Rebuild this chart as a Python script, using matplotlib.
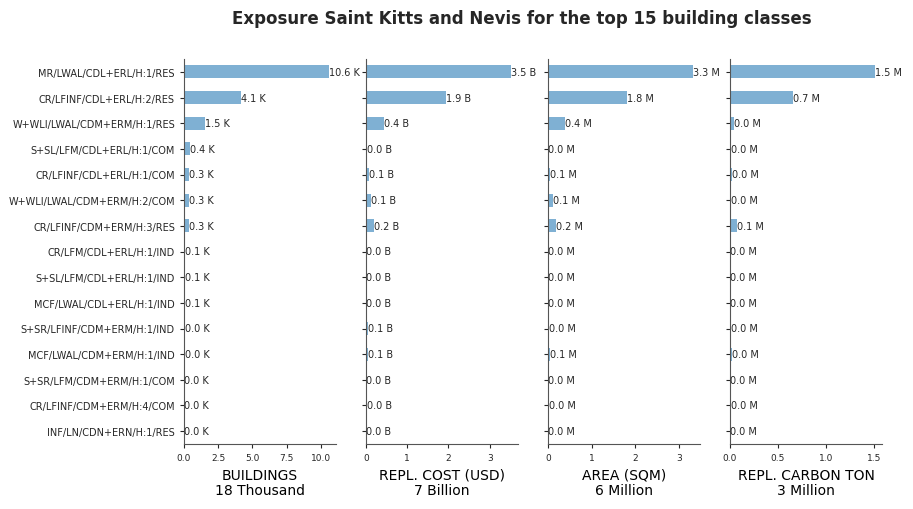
import matplotlib
matplotlib.use("Agg")
import matplotlib.pyplot as plt
from matplotlib.ticker import MultipleLocator
import numpy as np

title = "Exposure Saint Kitts and Nevis for the top 15 building classes"
classes = [
    "MR/LWAL/CDL+ERL/H:1/RES",
    "CR/LFINF/CDL+ERL/H:2/RES",
    "W+WLI/LWAL/CDM+ERM/H:1/RES",
    "S+SL/LFM/CDL+ERL/H:1/COM",
    "CR/LFINF/CDL+ERL/H:1/COM",
    "W+WLI/LWAL/CDM+ERM/H:2/COM",
    "CR/LFINF/CDM+ERM/H:3/RES",
    "CR/LFM/CDL+ERL/H:1/IND",
    "S+SL/LFM/CDL+ERL/H:1/IND",
    "MCF/LWAL/CDL+ERL/H:1/IND",
    "S+SR/LFINF/CDM+ERM/H:1/IND",
    "MCF/LWAL/CDM+ERM/H:1/IND",
    "S+SR/LFM/CDM+ERM/H:1/COM",
    "CR/LFINF/CDM+ERM/H:4/COM",
    "INF/LN/CDN+ERN/H:1/RES",
]
buildings_k = [10.58, 4.14, 1.52, 0.44, 0.35, 0.34, 0.33, 0.10, 0.09, 0.07, 0.04, 0.04, 0.03, 0.03, 0.02]
cost_b = [3.51, 1.93, 0.44, 0.02, 0.07, 0.12, 0.20, 0.01, 0.01, 0.01, 0.05, 0.05, 0.01, 0.02, 0.01]
area_m = [3.31, 1.81, 0.39, 0.01, 0.05, 0.11, 0.19, 0.01, 0.01, 0.01, 0.02, 0.05, 0.01, 0.02, 0.01]
carbon_m = [1.51, 0.66, 0.04, 0.01, 0.02, 0.01, 0.07, 0.00, 0.00, 0.00, 0.01, 0.02, 0.00, 0.01, 0.00]
tick_steps = [2.5, 1, 1, 0.5]

panels = [
    (buildings_k, "K", "BUILDINGS\n18 Thousand"),
    (cost_b, "B", "REPL. COST (USD)\n7 Billion"),
    (area_m, "M", "AREA (SQM)\n6 Million"),
    (carbon_m, "M", "REPL. CARBON TON\n3 Million"),
]

bar_color = "#7fb0d3"
text_color = "#262626"
spine_color = "#555555"

fig = plt.figure(figsize=(9.13, 5.10), dpi=100)
lefts = [184, 366, 548, 730]
width_px = 152
top_px, bot_px = 60, 445
W, H = 913, 510
y = np.arange(len(classes))
for i, (vals, unit, xlabel) in enumerate(panels):
    ax = fig.add_axes([lefts[i] / W, 1 - bot_px / H, width_px / W, (bot_px - top_px) / H])
    ax.barh(y, vals, height=0.5, color=bar_color)
    ax.set_ylim(len(classes) - 0.5, -0.5)
    ax.set_xlim(0, max(vals) * 1.05)
    ax.xaxis.set_major_locator(MultipleLocator(tick_steps[i]))
    ax.set_yticks(y)
    if i == 0:
        ax.set_yticklabels(classes, fontsize=7, color=text_color)
    else:
        ax.set_yticklabels([])
    for yy, v in zip(y, vals):
        ax.text(v, yy, f"{v:.1f} {unit}", va="center", ha="left", fontsize=7, color=text_color)
    ax.tick_params(axis="x", labelsize=6.5, colors=text_color, length=3, width=0.8)
    ax.tick_params(axis="y", colors=text_color, length=3, width=0.8)
    for s in ["top", "right"]:
        ax.spines[s].set_visible(False)
    for s in ["left", "bottom"]:
        ax.spines[s].set_color(spine_color)
        ax.spines[s].set_linewidth(0.8)
    ax.set_xlabel(xlabel, fontsize=10, color="black", labelpad=4, linespacing=1.1)

fig.text(522 / W, 1 - 18.5 / H, title, ha="center", va="center", fontsize=12,
         fontweight="bold", color=text_color)
fig.savefig("out.png", dpi=100)
